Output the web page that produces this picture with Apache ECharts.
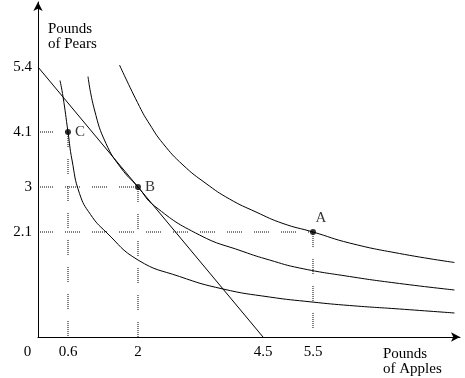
<!DOCTYPE html>
<html>
<head>
<meta charset="utf-8">
<script src="https://cdn.jsdelivr.net/npm/echarts@6/dist/echarts.min.js"></script>
<style>
  html, body { margin: 0; padding: 0; background: #fff; }
  #chart { width: 465px; height: 378px; }
</style>
</head>
<body>
<div id="chart"></div>
<script>
// tick labels
const xTicks = [0, 0.6, 2, 4.5, 5.5];
const yTicks = [2.1, 3, 4.1, 5.4];

// budget line
const budgetLine = [[0, 5.4], [4.5, 0]];

// indifference curves
const curveLow = [[0.44, 5.13], [0.5, 4.81], [0.6, 4.1], [0.68, 3.54], [0.83, 2.87], [1.05, 2.45], [1.36, 2.1],
  [2.0, 1.54], [2.83, 1.21], [3.7, 0.96], [4.63, 0.8], [5.48, 0.7], [6.23, 0.63], [7.23, 0.56], [8.33, 0.48]];
const curveMid = [[1.0, 5.21], [1.13, 4.54], [1.36, 3.87], [1.66, 3.38], [2.0, 3.0], [2.33, 2.62], [3.23, 2.04],
  [4.1, 1.71], [4.63, 1.54], [5.23, 1.38], [6.23, 1.21], [7.23, 1.07], [8.33, 0.94]];
const curveHigh = [[1.63, 5.44], [2.03, 4.61], [2.23, 4.26], [2.5, 3.87], [2.9, 3.44], [3.36, 3.07], [3.83, 2.76],
  [4.36, 2.5], [4.9, 2.27], [5.5, 2.1], [6.23, 1.88], [7.23, 1.67], [8.33, 1.49]];

// labelled bundles
const bundleNames = ['C', 'B', 'A'];
const bundleX = [0.6, 2, 5.5];
const bundleY = [4.1, 3, 2.1];

const FONT = 'Liberation Serif';
const dotted = [1, 1, 1, 1, 1, 1, 1, 1, 1, 1, 1, 1, 1, 1, 1, 12];

const myChart = echarts.init(document.getElementById('chart'));

const curveSeries = (data) => ({
  type: 'line',
  data: data,
  symbol: 'none',
  smooth: 0.5,
  lineStyle: { color: '#000', width: 1 },
  silent: true,
  z: 3,
});

// dotted guides from each bundle to the axes
const guideSeries = [];
bundleX.forEach((x, i) => {
  const y = bundleY[i];
  guideSeries.push({
    type: 'line',
    data: [[0, y], [x, y]],
    symbol: 'none',
    lineStyle: { color: '#000', width: 1, type: dotted },
    silent: true,
    z: 2,
  });
  guideSeries.push({
    type: 'line',
    data: [[x, y], [x, 0]],
    symbol: 'none',
    lineStyle: { color: '#000', width: 1, type: dotted },
    silent: true,
    z: 2,
  });
});

const option = {
  animation: false,
  grid: { left: 38, right: 5, top: 2, bottom: 41 },
  xAxis: {
    type: 'value',
    min: 0,
    max: 8.44,
    splitLine: { show: false },
    axisTick: { show: false },
    axisLine: {
      lineStyle: { color: '#000', width: 1 },
      symbol: ['none', 'arrow'],
      symbolSize: [7, 9],
    },
    axisLabel: {
      customValues: xTicks,
      color: '#000',
      fontFamily: FONT,
      fontSize: 15,
      margin: 8,
      formatter: (v) => (v === 0 ? '{z|0}' : String(v)),
      rich: { z: { padding: [0, 21, 0, 0], fontFamily: FONT, fontSize: 15, color: '#000' } },
    },
  },
  yAxis: {
    type: 'value',
    min: 0,
    max: 6.7,
    splitLine: { show: false },
    axisTick: { show: false },
    axisLine: {
      lineStyle: { color: '#000', width: 1 },
      symbol: ['none', 'arrow'],
      symbolSize: [7, 9],
    },
    axisLabel: {
      customValues: yTicks,
      color: '#000',
      fontFamily: FONT,
      fontSize: 15,
      margin: 6,
    },
  },
  graphic: [
    {
      type: 'text',
      left: 48,
      top: 22,
      style: { text: 'Pounds\nof Pears', font: '15px "Liberation Serif"', fill: '#000', align: 'center', lineHeight: 15, width: 50 },
    },
    {
      type: 'text',
      left: 383,
      top: 347,
      style: { text: 'Pounds\nof Apples', font: '15px "Liberation Serif"', fill: '#000', align: 'center', lineHeight: 15, width: 58 },
    },
  ],
  series: [
    ...guideSeries,
    {
      type: 'line',
      data: budgetLine,
      symbol: 'none',
      lineStyle: { color: '#000', width: 1 },
      silent: true,
      z: 3,
    },
    curveSeries(curveLow),
    curveSeries(curveMid),
    curveSeries(curveHigh),
    {
      type: 'scatter',
      data: bundleX.map((x, i) => ({
        value: [x, bundleY[i]],
        name: bundleNames[i],
        label: i === 2 ? { position: 'top', offset: [8, 2] } : { position: 'right', distance: 4 },
      })),
      symbol: 'circle',
      symbolSize: 6,
      itemStyle: { color: '#000' },
      label: {
        show: true,
        formatter: '{b}',
        color: '#000',
        fontFamily: FONT,
        fontSize: 15,
      },
      z: 5,
    },
  ],
};

myChart.setOption(option);
</script>
</body>
</html>
